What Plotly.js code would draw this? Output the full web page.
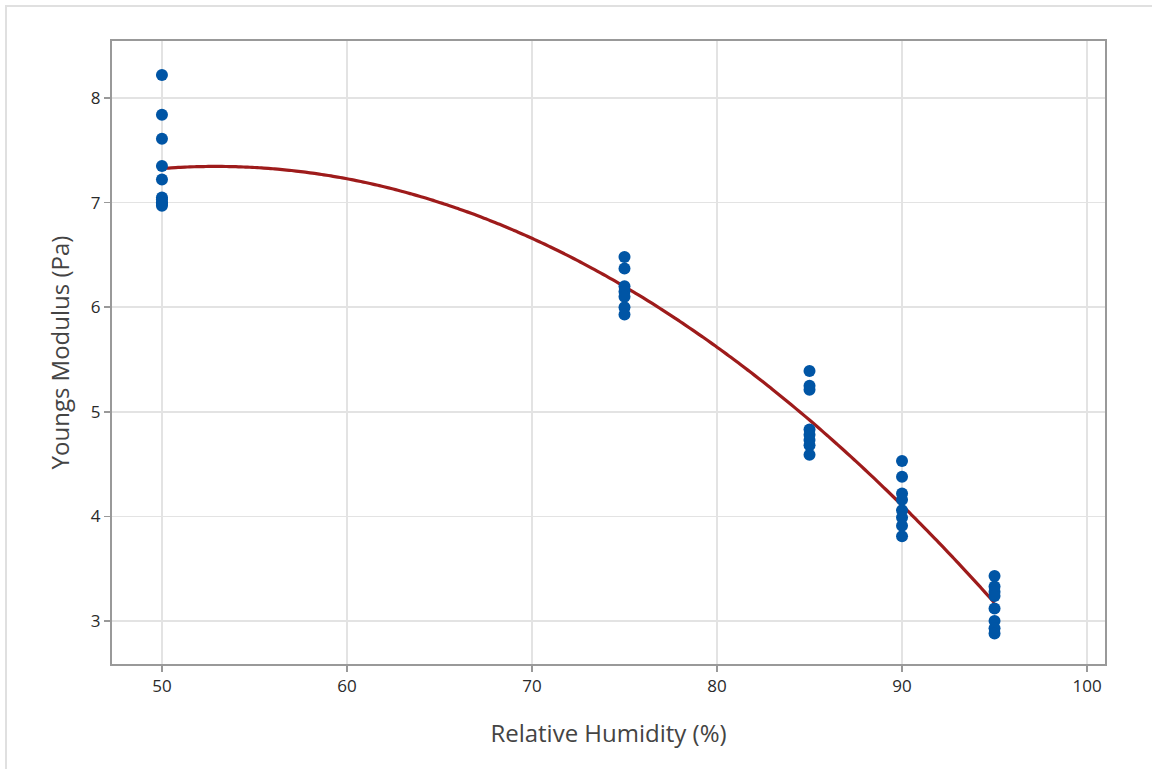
<!DOCTYPE html>
<html>
<head>
<meta charset="utf-8">
<script src="https://cdn.plot.ly/plotly-3.0.1.min.js"></script>
<style>
html,body{margin:0;padding:0;background:#fff;}
#frame{position:absolute;left:5px;top:5px;width:1147px;height:764px;border-top:2px solid #e0e0e0;border-left:2px solid #e0e0e0;box-sizing:border-box;}
#chart{position:absolute;left:0;top:0;width:1152px;height:769px;}
</style>
</head>
<body>
<div id="frame"></div>
<div id="chart"></div>
<script>
// Data
const humidity50 = [50,50,50,50,50,50,50,50,50,50];
const modulus50 = [8.22,7.84,7.61,7.35,7.22,7.05,7.03,7.00,6.99,6.97];
const humidity75 = [75,75,75,75,75,75,75];
const modulus75 = [6.48,6.37,6.20,6.15,6.10,6.00,5.93];
const humidity85 = [85,85,85,85,85,85,85,85];
const modulus85 = [5.39,5.25,5.21,4.83,4.78,4.73,4.68,4.59];
const humidity90 = [90,90,90,90,90,90,90,90];
const modulus90 = [4.53,4.38,4.22,4.16,4.06,3.99,3.91,3.81];
const humidity95 = [95,95,95,95,95,95,95,95];
const modulus95 = [3.43,3.33,3.28,3.24,3.12,3.00,2.93,2.88];
const xTicks = [50,60,70,80,90,100];
const yTicks = [3,4,5,6,7,8];

const xs = [].concat(humidity50,humidity75,humidity85,humidity90,humidity95);
const ys = [].concat(modulus50,modulus75,modulus85,modulus90,modulus95);

// quadratic least-squares fit (fitted line plot)
function quadFit(x, y){
  let S=[0,0,0,0,0], T=[0,0,0];
  for(let i=0;i<x.length;i++){
    let p=1;
    for(let k=0;k<5;k++){S[k]+=p; if(k<3) T[k]+=p*y[i]; p*=x[i];}
  }
  const A=[[S[0],S[1],S[2],T[0]],[S[1],S[2],S[3],T[1]],[S[2],S[3],S[4],T[2]]];
  for(let c=0;c<3;c++){
    for(let r=c+1;r<3;r++){const f=A[r][c]/A[c][c];for(let k=c;k<4;k++)A[r][k]-=f*A[c][k];}
  }
  const b=[0,0,0];
  for(let r=2;r>=0;r--){let s=A[r][3];for(let k=r+1;k<3;k++)s-=A[r][k]*b[k];b[r]=s/A[r][r];}
  return b;
}
const coef = quadFit(xs, ys);
const fitX=[], fitY=[];
for(let i=0;i<=180;i++){const x=50+i*0.25; fitX.push(x); fitY.push(coef[0]+coef[1]*x+coef[2]*x*x);}

const traces = [
  {x: fitX, y: fitY, mode:'lines', line:{color:'#9E1B1B', width:3.2, shape:'spline'}, hoverinfo:'skip', showlegend:false},
  {x: xs, y: ys, mode:'markers', marker:{color:'#0055A5', size:12}, showlegend:false}
];

const layout = {
  width:1152, height:769,
  paper_bgcolor:'rgba(0,0,0,0)', plot_bgcolor:'#fff',
  margin:{l:112, r:47, t:41, b:105},
  font:{family:'"Open Sans", "Noto Sans", sans-serif', color:'#333'},
  xaxis:{
    range:[47.3,100.97], tickvals:xTicks, ticktext:xTicks.map(String),
    showgrid:true, gridcolor:'#e3e3e3', gridwidth:1.5,
    zeroline:false, showline:true, linecolor:'#999', linewidth:2, mirror:true,
    ticks:'outside', ticklen:6, tickwidth:1.5, tickcolor:'#999',
    tickfont:{size:17, color:'#2a2a2a'},
    title:{text:'Relative Humidity (%)', font:{size:24, color:'#444'}, standoff:29}
  },
  yaxis:{
    range:[2.589,8.545], tickvals:yTicks, ticktext:yTicks.map(String),
    showgrid:true, gridcolor:'#e3e3e3', gridwidth:1.5,
    zeroline:false, showline:true, linecolor:'#999', linewidth:2, mirror:true,
    ticks:'outside', ticklen:6, tickwidth:1.5, tickcolor:'#999',
    tickfont:{size:17, color:'#2a2a2a'},
    title:{text:'Youngs Modulus (Pa)', font:{size:24, color:'#444'}, standoff:14}
  }
};
Plotly.newPlot('chart', traces, layout, {displayModeBar:false, staticPlot:true});
</script>
</body>
</html>
